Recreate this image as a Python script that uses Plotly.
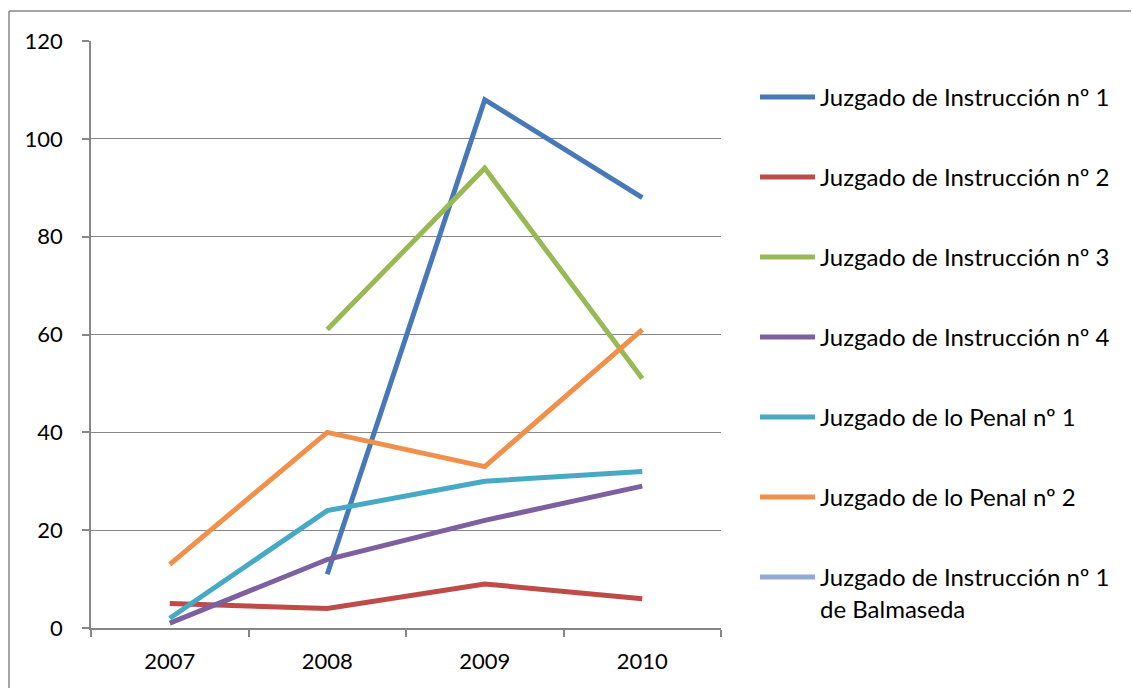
import plotly.graph_objects as go

years = ["2007", "2008", "2009", "2010"]
series_names = [
    "Juzgado de Instrucción nº 1",
    "Juzgado de Instrucción nº 2",
    "Juzgado de Instrucción nº 3",
    "Juzgado de Instrucción nº 4",
    "Juzgado de lo Penal nº 1",
    "Juzgado de lo Penal nº 2",
    "Juzgado de Instrucción nº 1<br>de Balmaseda",
]
instr1 = [None, 11, 108, 88]
instr2 = [5, 4, 9, 6]
instr3 = [None, 61, 94, 51]
instr4 = [1, 14, 22, 29]
penal1 = [2, 24, 30, 32]
penal2 = [13, 40, 33, 61]
balmaseda = [None, None, None, None]
series_values = [instr1, instr2, instr3, instr4, penal1, penal2, balmaseda]
colors = ["#4779B8", "#BE4B48", "#98B954", "#7D60A0", "#46AAC5", "#F0904A", "#92A9D3"]
y_ticks = [0, 20, 40, 60, 80, 100, 120]

FONT = "Lato"

fig = go.Figure()
for i, (name, vals, col) in enumerate(zip(series_names, series_values, colors)):
    fig.add_trace(go.Scatter(
        x=years, y=vals, name=name, mode="lines",
        line=dict(color=col, width=5),
        connectgaps=False, legendgroup=f"g{i}",
    ))

L, R, T, B = 91, 721, 41, 628
W, H = 1132, 688
pw, ph = R - L, B - T

def px(x):
    return (x - L) / pw

def py(y):
    return (B - y) / ph

fig.update_layout(
    width=W, height=H,
    margin=dict(l=L, r=W - R, t=T, b=H - B, pad=0),
    paper_bgcolor="white", plot_bgcolor="white",
    font=dict(family=FONT, size=22, color="black"),
    showlegend=True,
    legend=dict(
        x=px(755), y=py(75), xanchor="left", yanchor="top",
        font=dict(family=FONT, size=24, color="black"),
        tracegroupgap=45.8, itemwidth=55, valign="top",
        bgcolor="rgba(0,0,0,0)", borderwidth=0,
    ),
    xaxis=dict(
        type="category", range=[-0.5, 3.5], tickson="boundaries",
        showgrid=False, showline=True, linecolor="#868686", linewidth=1.5,
        ticks="outside", ticklen=7, tickcolor="#868686", tickwidth=1.5,
        ticklabelstandoff=13, zeroline=False,
    ),
    yaxis=dict(
        range=[0, 120], tickvals=y_ticks, showgrid=True, gridcolor="#868686",
        gridwidth=1.2, showline=True, linecolor="#868686", linewidth=1.5,
        ticks="outside", ticklen=7, tickcolor="#868686", tickwidth=1.5,
        ticklabelstandoff=15, zeroline=False,
    ),
    shapes=[
        dict(type="line", xref="paper", yref="paper", x0=px(9), x1=px(9),
             y0=py(700), y1=py(11), line=dict(color="#868686", width=1.5)),
        dict(type="line", xref="paper", yref="paper", x0=px(9), x1=px(1131),
             y0=py(11), y1=py(11), line=dict(color="#868686", width=1.5)),
    ],
)

fig.write_html("out.html")
